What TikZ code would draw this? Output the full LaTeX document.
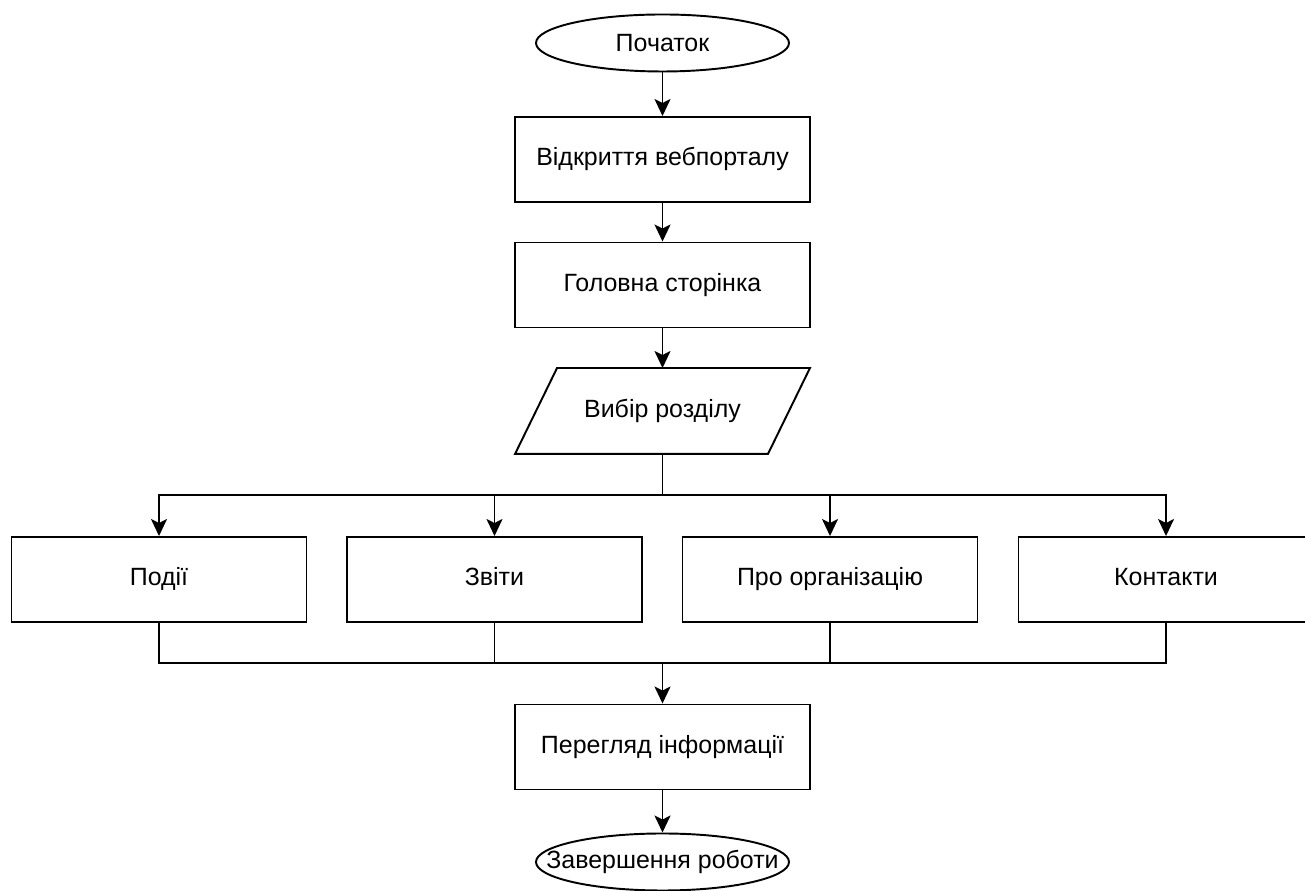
\documentclass[tikz,border=0pt]{standalone}
\usepackage{fontspec}
\setmainfont{Liberation Sans}
\usetikzlibrary{shapes.geometric,arrows.meta}

\begin{document}
\begin{tikzpicture}[
		font=\fontsize{14.2}{16}\selectfont,
		every path/.style={line width=1.1pt},
		arr/.style={-{Stealth[length=0.34cm,width=0.32cm,inset=0.08cm]}},
		term/.style={draw, ellipse, inner sep=0pt, minimum width=5.06cm, minimum height=1.14cm},
		proc/.style={draw, rectangle, minimum width=5.9cm, minimum height=1.7cm, text height=10pt, text depth=3pt},
		io/.style={rectangle, inner sep=0pt, minimum width=5.86cm, minimum height=1.68cm, text height=10pt, text depth=3pt}
	]
			\useasboundingbox (0,0) rectangle (26.1,17.82);

			\node[term] (start) at (13.25,16.96) {Початок};
			\node[proc] (open) at (13.25,14.63) {Відкриття вебпорталу};
			\node[proc] (home) at (13.25,12.12) {Головна сторінка};
			\node[io] (choice) at (13.25,9.6) {Вибір розділу};
			\draw ([xshift=0.84cm]choice.north west) -- (choice.north east)
				-- ([xshift=-0.84cm]choice.south east) -- (choice.south west) -- cycle;
			\coordinate (split) at (13.25,7.92);

			\node[proc] (events) at (3.18,6.23) {Події};
			\node[proc] (reports) at (9.89,6.23) {Звіти};
			\node[proc] (about) at (16.6,6.23) {Про організацію};
			\node[proc] (contacts) at (23.32,6.23) {Контакти};

			\coordinate (merge) at (13.25,4.56);
			\node[proc] (view) at (13.25,2.88) {Перегляд інформації};
			\node[term, label={center:Завершення роботи}] (finish) at (13.25,0.58) {};

			\draw[arr] (start) -- (open);
			\draw[arr] (open) -- (home);
			\draw[arr] (home) -- (choice);
			\draw (choice) -- (split);
			\foreach \sec in {events,reports,about,contacts}
				\draw[arr] (split) -| (\sec);
			\foreach \sec in {events,reports,about,contacts}
				\draw (\sec) |- (merge);
			\draw[arr] (merge) -- (view);
			\draw[arr] (view) -- (finish);

		\end{tikzpicture}
\end{document}
